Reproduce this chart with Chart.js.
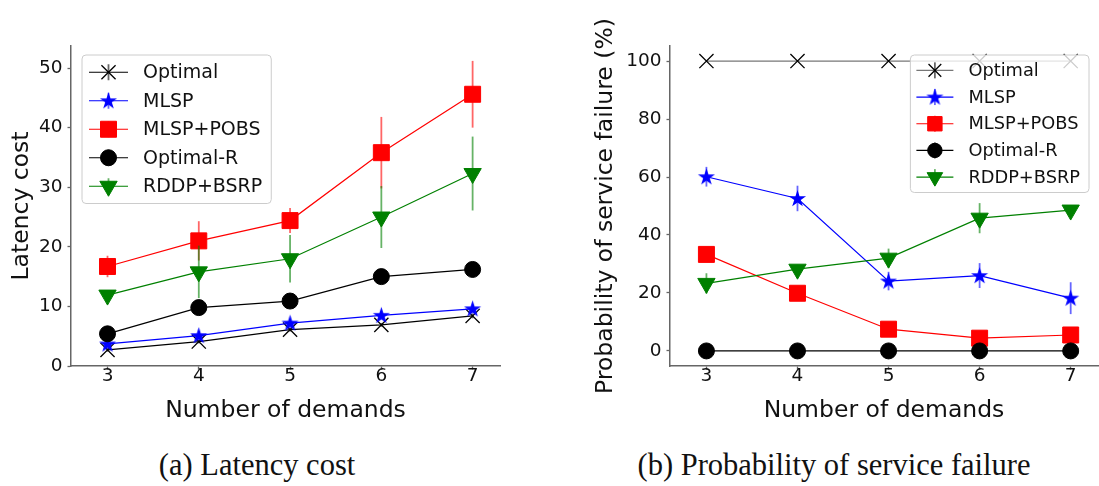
<!DOCTYPE html>
<html>
<head>
<meta charset="utf-8">
<script src="https://cdn.jsdelivr.net/npm/chart.js@4.4.0/dist/chart.umd.min.js"></script>
<style>
  body { margin: 0; background: #fff; width: 1099px; height: 486px; position: relative; overflow: hidden; }
  canvas { position: absolute; top: 0; }
  #latencyChart { left: 0; }
  #failureChart { left: 560px; }
  .caption { position: absolute; top: 450px; font-family: "Liberation Serif", serif; font-size: 30.5px;
             line-height: 30px; color: #111; white-space: nowrap; transform: translateX(-50%); }
</style>
</head>
<body>
<canvas id="latencyChart" width="545" height="430"></canvas>
<canvas id="failureChart" width="560" height="430"></canvas>
<div class="caption" style="left:257px">(a) Latency cost</div>
<div class="caption" style="left:834px">(b) Probability of service failure</div>

<script>
const demands = [3, 4, 5, 6, 7];

// (a) latency cost
const latencyOptimal = [2.7, 4.1, 6.1, 6.9, 8.4];
const latencyOptimalErr = [0.3, 0.3, 0.3, 0.3, 0.4];
const latencyMLSP = [3.7, 5.1, 7.2, 8.5, 9.6];
const latencyMLSPErr = [0.4, 0.4, 0.4, 0.4, 0.5];
const latencyPOBS = [16.7, 21.0, 24.4, 35.8, 45.6];
const latencyPOBSErr = [1.8, 3.3, 2.1, 6.0, 5.6];
const latencyOptimalR = [5.4, 9.8, 10.9, 15.0, 16.2];
const latencyOptimalRErr = [0.5, 0.5, 0.5, 0.5, 0.5];
const latencyRDDP = [11.9, 15.8, 18.0, 25.0, 32.3];
const latencyRDDPErr = [0.8, 4.4, 4.0, 5.2, 6.2];
const latencyTicks = [0, 10, 20, 30, 40, 50];

// (b) probability of service failure (%)
const failureOptimal = [100, 100, 100, 100, 100];
const failureOptimalErr = [0, 0, 0, 0, 0];
const failureMLSP = [60.1, 52.6, 24.1, 26.0, 18.2];
const failureMLSPErr = [3.4, 4.4, 3.2, 4.3, 5.5];
const failurePOBS = [33.3, 19.9, 7.5, 4.4, 5.5];
const failurePOBSErr = [1, 1, 1, 1, 1];
const failureOptimalR = [0, 0, 0, 0, 0];
const failureOptimalRErr = [0, 0, 0, 0, 0];
const failureRDDP = [23.3, 28.2, 32.0, 45.8, 48.6];
const failureRDDPErr = [3.5, 1.5, 3.3, 5.2, 1.5];
const failureTicks = [0, 20, 40, 60, 80, 100];

Chart.defaults.font.family = '"DejaVu Sans", sans-serif';
Chart.defaults.color = '#111';

function starImage(size, color) {
  const c = document.createElement('canvas');
  c.width = c.height = size;
  const g = c.getContext('2d');
  const R = size / 2 - 0.5, r = R * 0.382, cx = size / 2, cy = size / 2 + 0.5;
  g.beginPath();
  for (let i = 0; i < 10; i++) {
    const a = -Math.PI / 2 + i * Math.PI / 5;
    const rad = i % 2 ? r : R;
    g.lineTo(cx + rad * Math.cos(a), cy + rad * Math.sin(a));
  }
  g.closePath();
  g.fillStyle = color;
  g.fill();
  return c;
}
const blueStar = starImage(19, '#0000ff');

const styles = {
  Optimal: { color: '#000', pointStyle: 'crossRot', pointRadius: 10, fill: 'transparent', bw: 1.3 },
  MLSP: { color: '#0000ff', pointStyle: blueStar, pointRadius: 9, fill: '#0000ff', bw: 1 },
  'MLSP+POBS': { color: '#ff0000', pointStyle: 'rect', pointRadius: 11.3, fill: '#ff0000', bw: 1 },
  'Optimal-R': { color: '#000', pointStyle: 'circle', pointRadius: 8, fill: '#000', bw: 1 },
  'RDDP+BSRP': { color: '#008000', pointStyle: 'triangle', pointRadius: 10, fill: '#008000', bw: 1, rotation: 180 }
};

function series(label, values, errs, order, lineColor) {
  const s = styles[label];
  return {
    label: label,
    data: demands.map((x, i) => ({ x: x, y: values[i] })),
    errors: errs,
    order: order,
    borderColor: lineColor || s.color,
    borderWidth: 1.2,
    pointStyle: s.pointStyle,
    pointRadius: s.pointRadius,
    pointHoverRadius: s.pointRadius,
    pointRotation: s.rotation || 0,
    pointBackgroundColor: s.fill,
    pointBorderColor: s.color,
    pointBorderWidth: s.bw,
    tension: 0,
    fill: false
  };
}

// vertical error bars, drawn right before each dataset's line and markers
const errorBars = {
  id: 'errorBars',
  beforeDatasetDraw(chart, args) {
    const ds = chart.data.datasets[args.index];
    if (!ds.errors) return;
    const ctx = chart.ctx, y = chart.scales.y;
    ctx.save();
    ctx.strokeStyle = ds.pointBorderColor;
    ctx.globalAlpha = 0.6;
    ctx.lineWidth = 1.8;
    args.meta.data.forEach((pt, i) => {
      const v = ds.data[i].y, e = ds.errors[i];
      if (!e) return;
      ctx.beginPath();
      ctx.moveTo(pt.x, y.getPixelForValue(v - e));
      ctx.lineTo(pt.x, y.getPixelForValue(v + e));
      ctx.stroke();
    });
    ctx.restore();
  }
};

// matplotlib-like legend box with line + marker samples
const legendBox = {
  id: 'legendBox',
  afterDatasetsDraw(chart, args, o) {
    const ctx = chart.ctx, area = chart.chartArea;
    const sets = chart.data.datasets;
    ctx.save();
    ctx.font = o.size + 'px "DejaVu Sans"';
    const tw = Math.max(...sets.map(d => ctx.measureText(d.label).width));
    const w = o.textX + tw + 9;
    const h = sets.length * o.rowH + o.padY * 2;
    const left = o.side === 'left' ? area.left + o.dx : area.right - o.dx - w;
    const top = area.top + o.dy;
    ctx.beginPath();
    ctx.roundRect(left, top, w, h, 4);
    ctx.fillStyle = 'rgba(255,255,255,0.8)';
    ctx.fill();
    ctx.strokeStyle = '#cccccc';
    ctx.lineWidth = 1;
    ctx.stroke();
    sets.forEach((d, i) => {
      const cy = top + o.padY + o.rowH * (i + 0.5);
      const x0 = left + o.lineX, x1 = x0 + o.lineLen, cx = (x0 + x1) / 2;
      ctx.strokeStyle = d.borderColor;
      ctx.lineWidth = 1.2;
      ctx.beginPath(); ctx.moveTo(x0, cy); ctx.lineTo(x1, cy); ctx.stroke();
      ctx.save();
      ctx.globalAlpha = 0.6;
      ctx.strokeStyle = d.pointBorderColor;
      ctx.lineWidth = 1.8;
      ctx.beginPath(); ctx.moveTo(cx, cy - 8); ctx.lineTo(cx, cy + 8); ctx.stroke();
      ctx.restore();
      ctx.fillStyle = d.pointBackgroundColor;
      ctx.strokeStyle = d.pointBorderColor;
      ctx.lineWidth = d.pointBorderWidth;
      Chart.helpers.drawPoint(ctx, {
        pointStyle: d.pointStyle, radius: d.pointRadius * o.markScale,
        rotation: d.pointRotation, borderWidth: d.pointBorderWidth
      }, cx, cy);
      ctx.fillStyle = '#111';
      ctx.textAlign = 'left';
      ctx.textBaseline = 'middle';
      ctx.fillText(d.label, left + o.textX, cy + 1);
    });
    ctx.restore();
  }
};

function scales(yMin, yMax, yTicks, yTitle, yWidth, yTitlePad) {
  const axisColor = '#666';
  return {
    x: {
      type: 'linear', min: 2.6, max: 7.3,
      afterBuildTicks: s => { s.ticks = demands.map(v => ({ value: v })); },
      afterFit: s => { s.height = 64; },
      grid: { drawOnChartArea: false, tickLength: 3.5, tickColor: axisColor, tickWidth: 1.3 },
      border: { color: axisColor, width: 1.5 },
      ticks: { font: { size: 18.5 }, color: '#111', padding: -4, maxRotation: 0 },
      title: { display: true, text: 'Number of demands', font: { size: 23.5 }, color: '#111',
               padding: { top: 0, bottom: 5 } }
    },
    y: {
      min: yMin, max: yMax,
      afterBuildTicks: s => { s.ticks = yTicks.map(v => ({ value: v })); },
      afterFit: s => { s.width = yWidth; },
      grid: { drawOnChartArea: false, tickLength: 3.5, tickColor: axisColor, tickWidth: 1.3 },
      border: { color: axisColor, width: 1.5 },
      ticks: { font: { size: 18.5 }, color: '#111', padding: 5 },
      title: { display: true, text: yTitle, font: { size: 23.5 }, color: '#111',
               padding: { top: yTitlePad, bottom: 0 } }
    }
  };
}

new Chart(document.getElementById('latencyChart'), {
  type: 'line',
  data: {
    datasets: [
      series('Optimal', latencyOptimal, latencyOptimalErr, 4),
      series('MLSP', latencyMLSP, latencyMLSPErr, 3),
      series('MLSP+POBS', latencyPOBS, latencyPOBSErr, 2),
      series('Optimal-R', latencyOptimalR, latencyOptimalRErr, 1),
      series('RDDP+BSRP', latencyRDDP, latencyRDDPErr, 0)
    ]
  },
  options: {
    responsive: false,
    animation: false,
    layout: { padding: { left: 0, right: 45, top: 46, bottom: 0 } },
    scales: scales(0, 53.7, latencyTicks, 'Latency cost', 71, 8),
    plugins: {
      legend: { display: false },
      tooltip: { enabled: false },
      legendBox: { side: 'left', dx: 11, dy: 9, size: 19, rowH: 28.5, padY: 3, lineX: 7, lineLen: 39, textX: 61, markScale: 1 }
    }
  },
  plugins: [errorBars, legendBox]
});

new Chart(document.getElementById('failureChart'), {
  type: 'line',
  data: {
    datasets: [
      series('Optimal', failureOptimal, failureOptimalErr, 4, '#777777'),
      series('MLSP', failureMLSP, failureMLSPErr, 3),
      series('MLSP+POBS', failurePOBS, failurePOBSErr, 2),
      series('Optimal-R', failureOptimalR, failureOptimalRErr, 1),
      series('RDDP+BSRP', failureRDDP, failureRDDPErr, 0)
    ]
  },
  options: {
    responsive: false,
    animation: false,
    layout: { padding: { left: 0, right: 22, top: 46, bottom: 0 } },
    scales: scales(-5.2, 105.2, failureTicks, 'Probability of service failure (%)', 110, 32),
    plugins: {
      legend: { display: false },
      tooltip: { enabled: false },
      legendBox: { side: 'right', dx: 9, dy: 9, size: 17.8, rowH: 26.7, padY: 2, lineX: 6, lineLen: 37, textX: 58, markScale: 0.9 }
    }
  },
  plugins: [errorBars, legendBox]
});
</script>
</body>
</html>
